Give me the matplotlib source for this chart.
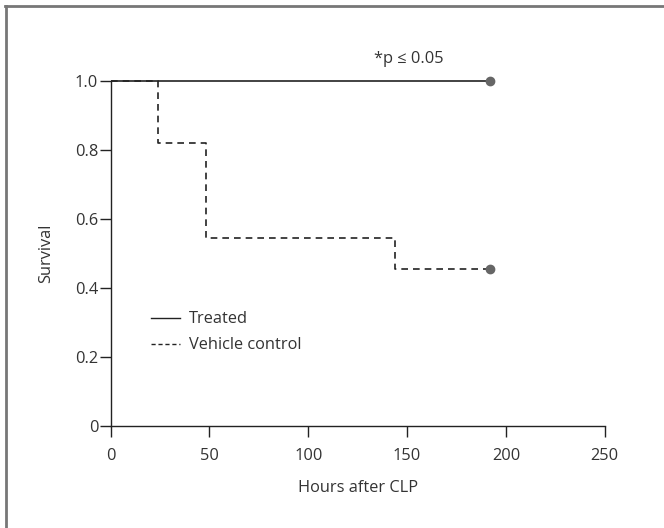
import matplotlib
matplotlib.use("Agg")
import matplotlib.pyplot as plt
from matplotlib.lines import Line2D

# Kaplan-Meier style survival data
treated_hours = [0, 192]
treated_survival = [1.0, 1.0]

vehicle_hours = [0, 24, 48, 144, 192]
vehicle_survival = [1.0, 9 / 11, 6 / 11, 5 / 11, 5 / 11]

x_ticks = [0, 50, 100, 150, 200, 250]
y_ticks = [0, 0.2, 0.4, 0.6, 0.8, 1.0]
y_tick_labels = ["0", "0.2", "0.4", "0.6", "0.8", "1.0"]

text_color = "#333333"
fs = 11.8
plt.rcParams["font.family"] = ["Open Sans", "DejaVu Sans"]
plt.rcParams["font.size"] = fs

fig = plt.figure(figsize=(6.64, 5.28), dpi=100)
ax = fig.add_axes([0.1667, 0.194, 0.744, 0.653])

ax.step(treated_hours, treated_survival, where="post", color="#222222", lw=1.2,
        solid_capstyle="butt", clip_on=False)
ax.step(vehicle_hours, vehicle_survival, where="post", color="#222222", lw=1.2,
        linestyle=(0, (4, 3)), clip_on=False)

# censoring dots at the end of follow-up
ax.plot(treated_hours[-1], treated_survival[-1], "o", color="#666666", ms=6, clip_on=False, zorder=5)
ax.plot(vehicle_hours[-1], vehicle_survival[-1], "o", color="#666666", ms=6, clip_on=False, zorder=5)

ax.set_xlim(0, 250)
ax.set_ylim(0, 1.0)
ax.set_xticks(x_ticks)
ax.set_yticks(y_ticks)
ax.set_yticklabels(y_tick_labels)

for side in ("top", "right"):
    ax.spines[side].set_visible(False)
for side in ("left", "bottom"):
    ax.spines[side].set_color("#222222")
    ax.spines[side].set_linewidth(1.0)

ax.tick_params(direction="out", length=8, width=1.0, colors="#222222",
               labelcolor=text_color, labelsize=fs)
ax.tick_params(axis="x", pad=8)
ax.tick_params(axis="y", pad=1)

ax.set_xlabel("Hours after CLP", color=text_color, fontsize=fs, labelpad=12)
ax.set_ylabel("Survival", color=text_color, fontsize=fs, labelpad=15)

ax.text(151, 1.063, "*p \u2264 0.05", ha="center", va="center", color=text_color, fontsize=fs)

handles = [
    Line2D([], [], color="#222222", lw=1.0),
    Line2D([], [], color="#222222", lw=1.0, linestyle=(0, (3, 2))),
]
ax.legend(handles, ["Treated", "Vehicle control"], loc="upper left",
          bbox_to_anchor=(0.068, 0.35), frameon=False, handlelength=1.8,
          handletextpad=0.5, labelspacing=0.6, fontsize=fs, labelcolor=text_color,
          borderaxespad=0)

# partial frame around the figure (left and top edges only visible)
fig.add_artist(Line2D([0.009, 0.009], [0, 0.989], transform=fig.transFigure,
                      color="#777777", lw=2))
fig.add_artist(Line2D([0.008, 1.0], [0.989, 0.989], transform=fig.transFigure,
                      color="#777777", lw=2))

fig.savefig("out.png", dpi=100)
